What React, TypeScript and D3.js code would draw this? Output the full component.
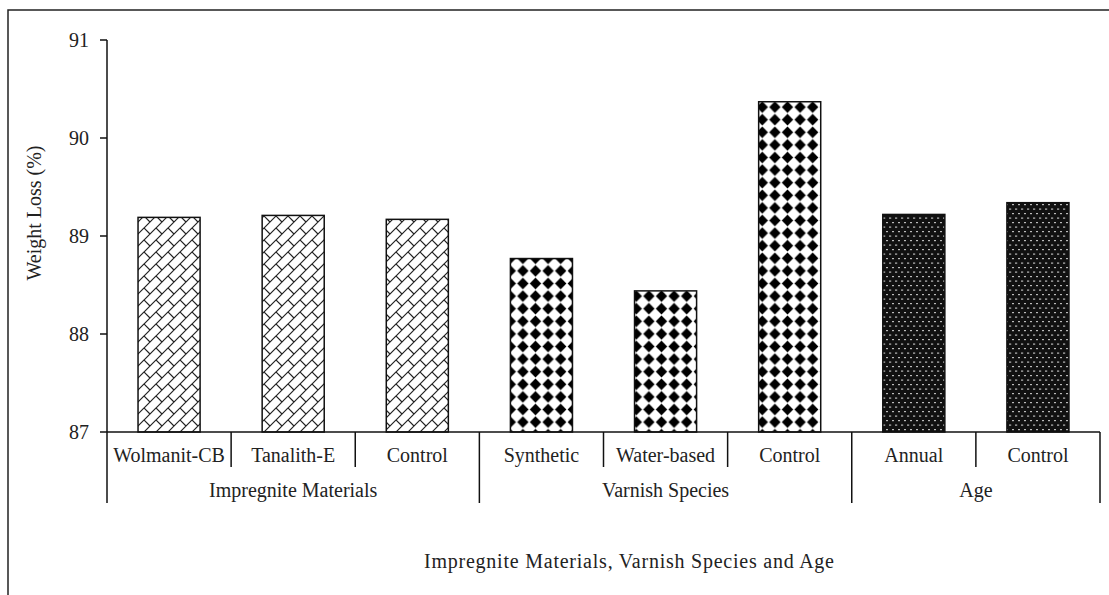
import React from "react";
import * as d3 from "d3";

const categories = ["Wolmanit-CB", "Tanalith-E", "Control", "Synthetic", "Water-based", "Control", "Annual", "Control"];
const values = [89.19, 89.21, 89.17, 88.77, 88.44, 90.37, 89.22, 89.34];
const groupNames = ["Impregnite Materials", "Varnish Species", "Age"];
const groupSizes = [3, 3, 2];
const yTicks = [87, 88, 89, 90, 91];
const yTitle = "Weight Loss (%)";
const xTitle = "Impregnite Materials, Varnish Species and Age";

const W = 1109, H = 595;
const X0 = 107, X1 = 1100, YT = 40, YB = 432;
const FONT = "'Liberation Serif', 'Times New Roman', serif";

export default function App() {
  const idx = categories.map((_, i) => i);
  const x = d3.scaleBand<number>().domain(idx).range([X0, X1]).paddingInner(0.5).paddingOuter(0.25);
  const y = d3.scaleLinear().domain([87, 91]).range([YB, YT]);
  const step = x.step();
  const groupOf: number[] = [];
  groupSizes.forEach((n, g) => { for (let k = 0; k < n; k++) groupOf.push(g); });
  const patterns = ["brick", "diamond", "dots"];

  const starts: number[] = [];
  let acc = 0;
  groupSizes.forEach((n) => { starts.push(acc); acc += n; });
  const bx = (i: number) => X0 + i * step;

  return (
    <svg width={W} height={H} style={{ position: "absolute", left: 0, top: 0, background: "#fff" }}>
      <defs>
        <pattern id="brick" width={12} height={12} patternUnits="userSpaceOnUse">
          <rect width={12} height={12} fill="#fff" />
          <path d="M-3,3 L3,-3 M0,12 L12,0 M9,15 L15,9 M0,0 L6,6" stroke="#222" strokeWidth={1.2} fill="none" />
        </pattern>
        <pattern id="diamond" width={12.6} height={12.6} patternUnits="userSpaceOnUse">
          <rect width={12.6} height={12.6} fill="#fff" />
          <path d="M6.3,0.6 L12,6.3 L6.3,12 L0.6,6.3 Z" fill="#000" />
        </pattern>
        <pattern id="dots" width={6} height={9} patternUnits="userSpaceOnUse">
          <rect width={6} height={9} fill="#111" />
          <rect x={1} y={1.5} width={2.2} height={1.2} fill="#bbb" />
          <rect x={4} y={6} width={2.2} height={1.2} fill="#bbb" />
        </pattern>
      </defs>
      <rect x={8} y={10} width={1300} height={800} fill="none" stroke="#222" strokeWidth={1.5} />

      {values.map((v, i) => (
        <rect key={i} x={x(i)} y={y(v)} width={x.bandwidth()} height={YB - y(v)}
          fill={`url(#${patterns[groupOf[i]]})`} stroke="#111" strokeWidth={1.5} />
      ))}

      <line x1={X0} x2={X0} y1={YT} y2={503} stroke="#111" strokeWidth={1.5} />
      {yTicks.map((t) => (
        <g key={t}>
          <line x1={100} x2={X0} y1={y(t)} y2={y(t)} stroke="#111" strokeWidth={1.5} />
          <text x={89} y={y(t)} dy="0.35em" textAnchor="end" fontFamily={FONT} fontSize={20} fill="#222">{t}</text>
        </g>
      ))}
      <text transform={`translate(41,213) rotate(-90)`} textAnchor="middle" fontFamily={FONT} fontSize={20} fill="#222">{yTitle}</text>

      <line x1={X0} x2={X1} y1={YB} y2={YB} stroke="#111" strokeWidth={1.5} />
      {d3.range(1, categories.length + 1).map((i) => {
        const isGroup = starts.includes(i) || i === categories.length;
        return <line key={i} x1={bx(i)} x2={bx(i)} y1={YB} y2={isGroup ? 503 : 467} stroke="#111" strokeWidth={1.5} />;
      })}
      {categories.map((c, i) => (
        <text key={i} x={bx(i) + step / 2} y={462} textAnchor="middle" fontFamily={FONT} fontSize={20} fill="#222">{c}</text>
      ))}
      {groupNames.map((g, k) => (
        <text key={g} x={bx(starts[k]) + (groupSizes[k] * step) / 2} y={497} textAnchor="middle" fontFamily={FONT} fontSize={20} fill="#222">{g}</text>
      ))}
      <text x={629} y={568} textAnchor="middle" textLength={410} lengthAdjust="spacing" fontFamily={FONT} fontSize={20} fill="#222">{xTitle}</text>
    </svg>
  );
}
